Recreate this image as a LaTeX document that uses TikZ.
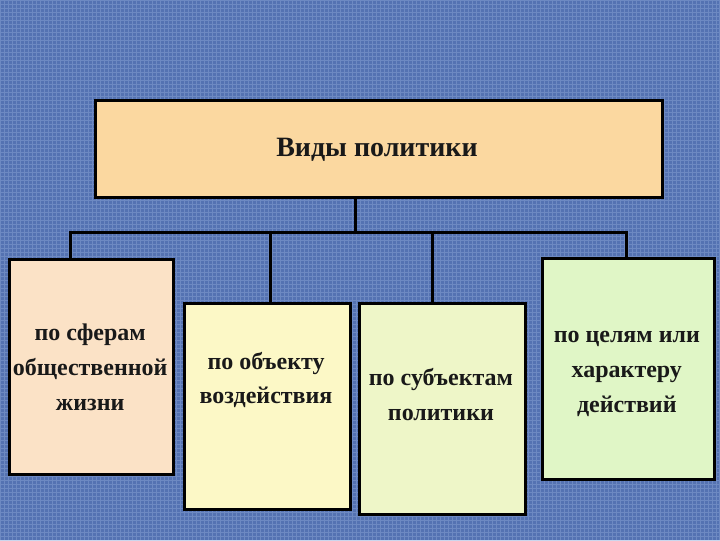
\documentclass[tikz,border=0pt]{standalone}
\usepackage{fontspec}
\setmainfont{Liberation Serif}
\definecolor{bgblue}{RGB}{84,114,178}
\definecolor{bggrid}{RGB}{140,165,215}
\definecolor{topfill}{RGB}{251,216,160}
\definecolor{f1}{RGB}{251,226,198}
\definecolor{f2}{RGB}{252,248,198}
\definecolor{f3}{RGB}{238,246,200}
\definecolor{f4}{RGB}{224,246,198}
\tikzset{
  box/.style={draw=black, line width=3pt, inner sep=0pt, anchor=north west},
  conn/.style={draw=black, line width=3pt},
  lbl/.style={font=\bfseries\fontsize{24}{35}\selectfont, align=center, text=black!90}
}
\begin{document}
\begin{tikzpicture}[x=1pt,y=-1pt]
\fill[bgblue] (0,0) rectangle (720,540);
\draw[bggrid, line width=0.5pt, opacity=0.45, step=4pt] (0,0) grid (720,540);
\useasboundingbox (0,0) rectangle (720,540);
% top box
\node[box, fill=topfill, minimum width=567pt, minimum height=97pt] (top) at (94,99) {};
\node[font=\bfseries\fontsize{28}{32}\selectfont, text=black!90] (toplbl) at (377,150) {Виды политики};
% child boxes
\node[box, fill=f1, minimum width=164pt, minimum height=215pt] (b1) at (8,258) {};
\node[box, fill=f2, minimum width=166pt, minimum height=206pt] (b2) at (183,302) {};
\node[box, fill=f3, minimum width=166pt, minimum height=211pt] (b3) at (358,302) {};
\node[box, fill=f4, minimum width=172pt, minimum height=221pt] (b4) at (541,257) {};
% labels
\node[lbl] (l1) at (90,367) {по сферам\\общественной\\жизни};
\node[lbl] (l2) at (266,380) {по объекту\\воздействия};
\node[lbl] (l3) at (441,395) {по субъектам\\политики};
\node[lbl] (l4) at (627,374) {по целям или\\характеру\\действий};
% connectors
\coordinate (hub) at (355,232);
\coordinate (j1) at (70,232);
\coordinate (j2) at (270,232);
\coordinate (j3) at (433,232);
\coordinate (j4) at (627,232);
\draw[conn] (top.south -| hub) -- (hub);
\draw[conn, line cap=rect] (j1) -- (j4);
\draw[conn] (j1) -- (j1 |- b1.north);
\draw[conn] (j2) -- (j2 |- b2.north);
\draw[conn] (j3) -- (j3 |- b3.north);
\draw[conn] (j4) -- (j4 |- b4.north);
\end{tikzpicture}
\end{document}
